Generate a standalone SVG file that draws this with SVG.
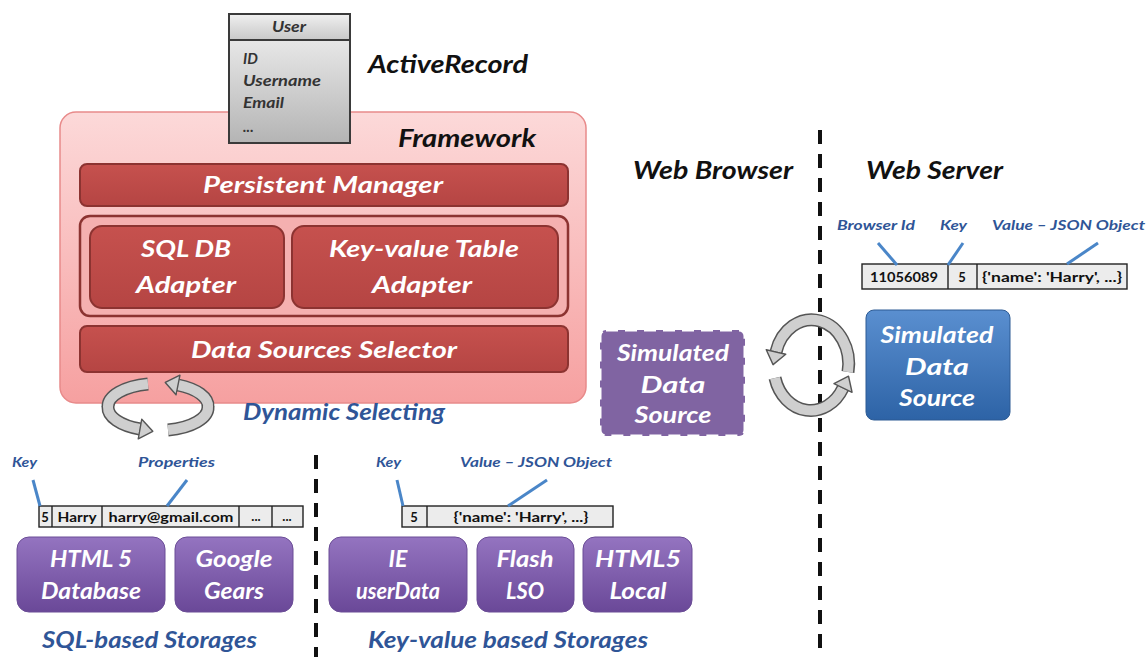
<svg xmlns="http://www.w3.org/2000/svg" width="1148" height="657" viewBox="0 0 1148 657">
<defs>
<linearGradient id="gFw" x1="0" y1="0" x2="0" y2="1"><stop offset="0" stop-color="#fcd9d9"/><stop offset="1" stop-color="#f6a0a0"/></linearGradient>
<linearGradient id="gRed" x1="0" y1="0" x2="0" y2="1"><stop offset="0" stop-color="#c6514e"/><stop offset="1" stop-color="#b54543"/></linearGradient>
<linearGradient id="gPur" x1="0" y1="0" x2="0" y2="1"><stop offset="0" stop-color="#9474c0"/><stop offset="1" stop-color="#6a4898"/></linearGradient>
<linearGradient id="gBlue" x1="0" y1="0" x2="0" y2="1"><stop offset="0" stop-color="#5a8fd0"/><stop offset="1" stop-color="#2d63a6"/></linearGradient>
<linearGradient id="gGray" x1="0" y1="0" x2="0" y2="1"><stop offset="0" stop-color="#f4f4f4"/><stop offset="1" stop-color="#b4b4b4"/></linearGradient>
<linearGradient id="gHead" x1="0" y1="0" x2="0" y2="1"><stop offset="0" stop-color="#f0f0f0"/><stop offset="1" stop-color="#c8c8c8"/></linearGradient>
<marker id="ah" markerUnits="userSpaceOnUse" markerWidth="15" markerHeight="22" refX="1" refY="11" orient="auto" viewBox="0 0 15 22">
<polygon points="1,1 14,11 1,21" fill="#cfcfcf" stroke="#555" stroke-width="1.4" stroke-linejoin="round"/>
</marker>
<style>
.t{font-family:Lato,"Liberation Sans",sans-serif;font-weight:bold;font-style:italic}
.title{font-size:25px;fill:#111}
.wt{font-size:23px;fill:#fff;text-anchor:middle}
.bl{font-size:14px;fill:#2f5597}
.big{font-size:22px;fill:#2f5597}
.cell{font-family:Lato,"Liberation Sans",sans-serif;font-weight:bold;font-size:13px;fill:#111;text-anchor:middle}
.ut{font-size:15px;fill:#333}
.red{fill:url(#gRed);stroke:#8c3331;stroke-width:2}
.pur{fill:url(#gPur);stroke:#6b4d96;stroke-width:1}
.tbl{fill:#ececec;stroke:#222;stroke-width:1.4}
.lead{stroke:#4a86c8;stroke-width:3;fill:none}
.dash{stroke:#111;stroke-width:4;stroke-dasharray:14 10;fill:none}
.arO{fill:none;stroke:#555;stroke-width:13}
.arI{fill:none;stroke:#cfcfcf;stroke-width:10}
</style>
</defs>
<rect width="1148" height="657" fill="#fff"/>

<g id="dividers">
<line class="dash" x1="820" y1="130" x2="820" y2="657"/>
<line class="dash" x1="316" y1="455" x2="316" y2="657"/>
</g>

<g id="framework">
<rect x="60" y="112" width="526" height="291" rx="16" fill="url(#gFw)" stroke="#e88a8a" stroke-width="1.5"/>
<text class="t title" x="398" y="147" textLength="138" lengthAdjust="spacingAndGlyphs">Framework</text>
</g>

<g id="user">
<rect x="229" y="14" width="121" height="129" fill="url(#gGray)" stroke="#3a3a3a" stroke-width="2"/>
<rect x="229" y="14" width="121" height="26" fill="url(#gHead)" stroke="#3a3a3a" stroke-width="2"/>
<text class="t ut" x="289" y="32" text-anchor="middle" textLength="34" lengthAdjust="spacingAndGlyphs">User</text>
<text class="t ut" x="243" y="64">ID</text>
<text class="t ut" x="243" y="86" textLength="78" lengthAdjust="spacingAndGlyphs">Username</text>
<text class="t ut" x="243" y="108" textLength="41" lengthAdjust="spacingAndGlyphs">Email</text>
<text class="t ut" x="243" y="132" font-size="10">...</text>
</g>

<g id="activerecord">
<text class="t title" x="368" y="73" textLength="160" lengthAdjust="spacingAndGlyphs">ActiveRecord</text>
</g>

<g id="persistent-manager">
<rect class="red" x="80" y="164" width="488" height="42" rx="7"/>
<text class="t wt" x="323" y="193" textLength="240" lengthAdjust="spacingAndGlyphs">Persistent Manager</text>
</g>

<g id="adapters">
<rect x="80" y="216" width="488" height="100" rx="10" fill="#f5b0b0" stroke="#8c3331" stroke-width="2.5"/>
</g>
<g id="sql-adapter">
<rect class="red" x="90" y="226" width="194" height="82" rx="12"/>
<text class="t wt" x="186" y="257" textLength="90" lengthAdjust="spacingAndGlyphs">SQL DB</text>
<text class="t wt" x="186" y="293" textLength="100" lengthAdjust="spacingAndGlyphs">Adapter</text>
</g>
<g id="kv-adapter">
<rect class="red" x="292" y="226" width="266" height="82" rx="12"/>
<text class="t wt" x="424" y="257" textLength="190" lengthAdjust="spacingAndGlyphs">Key-value Table</text>
<text class="t wt" x="422" y="293" textLength="100" lengthAdjust="spacingAndGlyphs">Adapter</text>
</g>

<g id="selector">
<rect class="red" x="80" y="326" width="488" height="46" rx="7"/>
<text class="t wt" x="324" y="358" textLength="266" lengthAdjust="spacingAndGlyphs">Data Sources Selector</text>
</g>

<g id="dynamic-label">
<text class="t big" x="243" y="420" font-size="20" textLength="202" lengthAdjust="spacingAndGlyphs">Dynamic Selecting</text>
</g>

<g id="web-browser-label"><text class="t title" x="633" y="179" textLength="160" lengthAdjust="spacingAndGlyphs">Web Browser</text></g>
<g id="web-server-label"><text class="t title" x="866" y="179" textLength="137" lengthAdjust="spacingAndGlyphs">Web Server</text></g>

<g id="sim-browser">
<rect x="600" y="330" width="145" height="106" rx="6" fill="#8064a2" stroke="#fff" stroke-width="3" stroke-dasharray="12 7"/>
<text class="t wt" x="673" y="361" textLength="112" lengthAdjust="spacingAndGlyphs">Simulated</text>
<text class="t wt" x="673" y="393" textLength="65" lengthAdjust="spacingAndGlyphs">Data</text>
<text class="t wt" x="673" y="423" textLength="77" lengthAdjust="spacingAndGlyphs">Source</text>
</g>

<g id="sim-server">
<rect x="866" y="310" width="144" height="110" rx="8" fill="url(#gBlue)" stroke="#2d5b94" stroke-width="1"/>
<text class="t wt" x="937" y="343" textLength="113" lengthAdjust="spacingAndGlyphs">Simulated</text>
<text class="t wt" x="937" y="375" textLength="64" lengthAdjust="spacingAndGlyphs">Data</text>
<text class="t wt" x="937" y="406" textLength="76" lengthAdjust="spacingAndGlyphs">Source</text>
</g>

<g id="server-table">
<text class="t bl" x="837" y="230" textLength="78" lengthAdjust="spacingAndGlyphs">Browser Id</text>
<text class="t bl" x="940" y="230" textLength="27" lengthAdjust="spacingAndGlyphs">Key</text>
<text class="t bl" x="992" y="230" textLength="153" lengthAdjust="spacingAndGlyphs">Value – JSON Object</text>
<rect class="tbl" x="862" y="264" width="265" height="25"/>
<line x1="948" y1="264" x2="948" y2="289" stroke="#222" stroke-width="1.4"/>
<line x1="977" y1="264" x2="977" y2="289" stroke="#222" stroke-width="1.4"/>
<text class="cell" x="904" y="282" font-size="14" textLength="68" lengthAdjust="spacingAndGlyphs">11056089</text>
<text class="cell" x="962" y="282" font-size="14">5</text>
<text class="cell" x="1052" y="282" font-size="14" textLength="140" lengthAdjust="spacingAndGlyphs">{'name': 'Harry', ...}</text>
</g>

<g id="sql-table">
<text class="t bl" x="12" y="467" textLength="25" lengthAdjust="spacingAndGlyphs">Key</text>
<text class="t bl" x="138" y="467" textLength="77" lengthAdjust="spacingAndGlyphs">Properties</text>
<rect class="tbl" x="39" y="506" width="264" height="21"/>
<line x1="52" y1="506" x2="52" y2="527" stroke="#222" stroke-width="1.4"/>
<line x1="102" y1="506" x2="102" y2="527" stroke="#222" stroke-width="1.4"/>
<line x1="239" y1="506" x2="239" y2="527" stroke="#222" stroke-width="1.4"/>
<line x1="272" y1="506" x2="272" y2="527" stroke="#222" stroke-width="1.4"/>
<text class="cell" x="45" y="522">5</text>
<text class="cell" x="77" y="522" textLength="39" lengthAdjust="spacingAndGlyphs">Harry</text>
<text class="cell" x="171" y="522" textLength="125" lengthAdjust="spacingAndGlyphs">harry@gmail.com</text>
<text class="cell" x="256" y="521" fill="#777" font-size="10">...</text>
<text class="cell" x="287" y="521" fill="#777" font-size="10">...</text>
</g>

<g id="kv-table">
<text class="t bl" x="376" y="467" textLength="25" lengthAdjust="spacingAndGlyphs">Key</text>
<text class="t bl" x="460" y="467" textLength="152" lengthAdjust="spacingAndGlyphs">Value – JSON Object</text>
<rect class="tbl" x="402" y="506" width="211" height="21"/>
<line x1="427" y1="506" x2="427" y2="527" stroke="#222" stroke-width="1.4"/>
<text class="cell" x="414" y="522">5</text>
<text class="cell" x="521" y="522" textLength="135" lengthAdjust="spacingAndGlyphs">{'name': 'Harry', ...}</text>
</g>

<g id="html5-database">
<rect class="pur" x="17" y="537" width="148" height="75" rx="12"/>
<text class="t wt" x="91" y="567" textLength="82" lengthAdjust="spacingAndGlyphs">HTML 5</text>
<text class="t wt" x="91" y="599" textLength="100" lengthAdjust="spacingAndGlyphs">Database</text>
</g>
<g id="google-gears">
<rect class="pur" x="175" y="537" width="118" height="75" rx="12"/>
<text class="t wt" x="234" y="567" textLength="77" lengthAdjust="spacingAndGlyphs">Google</text>
<text class="t wt" x="234" y="599" textLength="60" lengthAdjust="spacingAndGlyphs">Gears</text>
</g>
<g id="ie-userdata">
<rect class="pur" x="329" y="537" width="138" height="75" rx="12"/>
<text class="t wt" x="398" y="567">IE</text>
<text class="t wt" x="398" y="599" textLength="84" lengthAdjust="spacingAndGlyphs">userData</text>
</g>
<g id="flash-lso">
<rect class="pur" x="477" y="537" width="97" height="75" rx="12"/>
<text class="t wt" x="525" y="567" textLength="57" lengthAdjust="spacingAndGlyphs">Flash</text>
<text class="t wt" x="525" y="599" textLength="38" lengthAdjust="spacingAndGlyphs">LSO</text>
</g>
<g id="html5-local">
<rect class="pur" x="583" y="537" width="109" height="75" rx="12"/>
<text class="t wt" x="638" y="567" textLength="86" lengthAdjust="spacingAndGlyphs">HTML5</text>
<text class="t wt" x="638" y="599" textLength="57" lengthAdjust="spacingAndGlyphs">Local</text>
</g>

<g id="sql-caption"><text class="t big" x="42" y="648" textLength="215" lengthAdjust="spacingAndGlyphs">SQL-based Storages</text></g>
<g id="kv-caption"><text class="t big" x="368" y="648" textLength="280" lengthAdjust="spacingAndGlyphs">Key-value based Storages</text></g>

<g id="connectors">
<line class="lead" x1="878" y1="243" x2="897" y2="265"/>
<line class="lead" x1="963" y1="243" x2="948" y2="265"/>
<line class="lead" x1="1098" y1="243" x2="1067" y2="264"/>
<line class="lead" x1="33" y1="480" x2="40" y2="506"/>
<line class="lead" x1="187" y1="480" x2="167" y2="506"/>
<line class="lead" x1="397" y1="480" x2="403" y2="506"/>
<line class="lead" x1="547" y1="480" x2="508" y2="506"/>

<path class="arO" d="M148,384 A50,23 0 0 0 108,407 A50,23 0 0 0 140,429"/>
<path class="arI" d="M148,384 A50,23 0 0 0 108,407 A50,23 0 0 0 140,429" marker-end="url(#ah)"/>
<path class="arO" d="M168,430 A50,23 0 0 0 208,407 A50,23 0 0 0 178,385"/>
<path class="arI" d="M168,430 A50,23 0 0 0 208,407 A50,23 0 0 0 178,385" marker-end="url(#ah)"/>

<path class="arO" d="M848,372 A37,44 0 0 0 776,352"/>
<path class="arI" d="M848,372 A37,44 0 0 0 776,352" marker-end="url(#ah)"/>
<path class="arO" d="M775,378 A37,44 0 0 0 843,388"/>
<path class="arI" d="M775,378 A37,44 0 0 0 843,388" marker-end="url(#ah)"/>
</g>
</svg>
